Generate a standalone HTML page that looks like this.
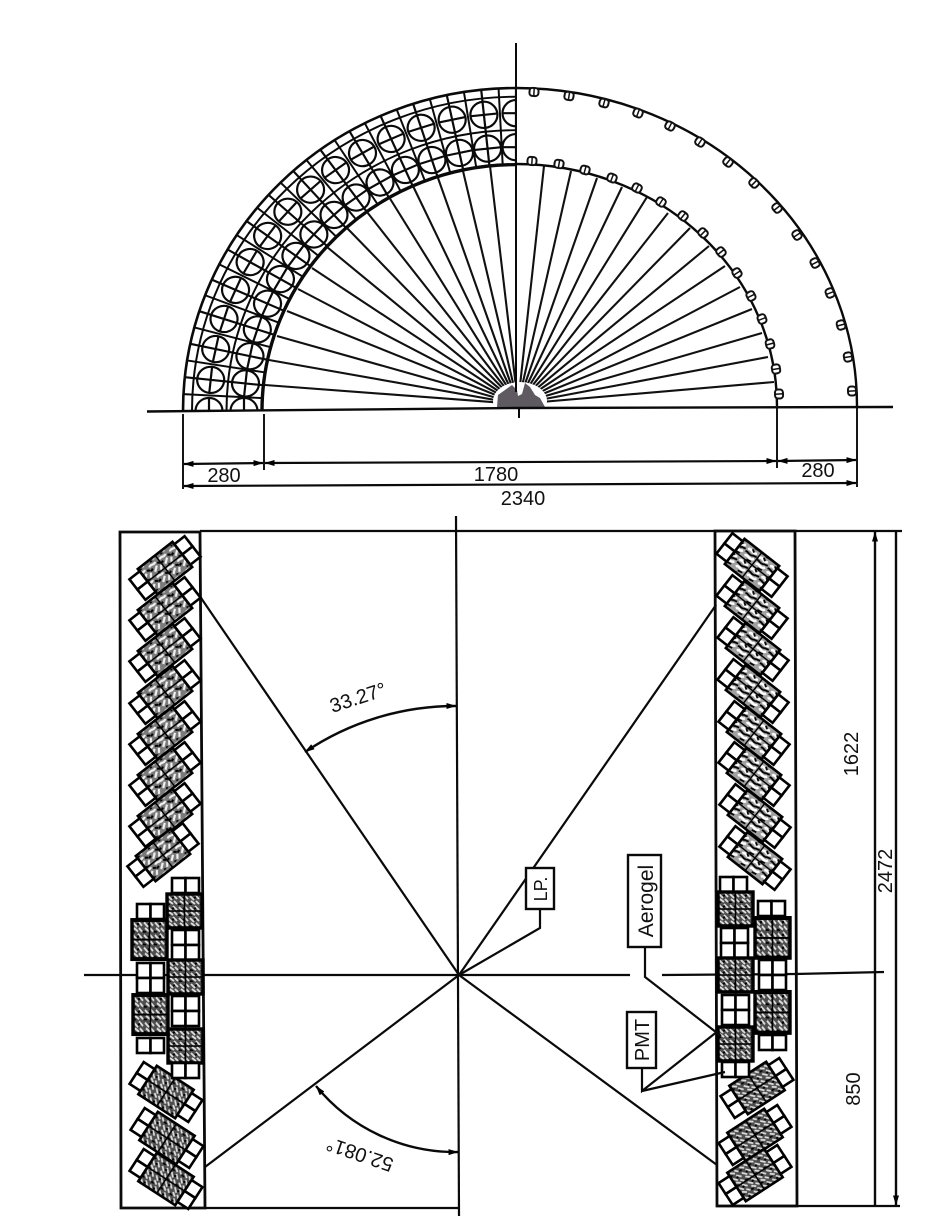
<!DOCTYPE html>
<html lang="en">
<head>
<meta charset="utf-8">
<title>Detector diagram</title>
<style>
html,body{margin:0;padding:0;background:#fff}
svg{display:block}
text{font-family:"Liberation Sans",sans-serif;fill:#111}
</style>
</head>
<body>
<svg width="934" height="1216" viewBox="0 0 934 1216" xmlns="http://www.w3.org/2000/svg">
<defs>
<clipPath id="q"><rect x="-345" y="-345" width="345" height="345"/></clipPath>
<marker id="a" viewBox="0 0 10 6" refX="9.5" refY="3" markerWidth="10" markerHeight="6" markerUnits="userSpaceOnUse" orient="auto-start-reverse"><path d="M0 0L10 3L0 6Z" fill="#000"/></marker>
<g id="m" fill="none" stroke="#0a0a0a" stroke-width="2.2">
<circle cx="-307" cy="0" r="13.5"/><circle cx="-272" cy="0" r="13.5"/>
<path d="M-254 0H-333M-307 -14V14M-272 -14V14"/>
<path d="M-253.65 13.29L-332.54 17.43" stroke-width="2"/>
</g>
<g id="s" fill="#fff" stroke="#111" stroke-width="2">
<rect x="-4.5" y="-4" width="9" height="8" rx="3"/><path d="M0 -4V4" stroke-width="1.5"/>
</g>
<pattern id="p1" width="13" height="13" patternUnits="userSpaceOnUse">
<rect width="13" height="13" fill="#7a7a7a"/>
<path d="M1 3C4 0 6 5 9 2M3 10L8 6M9 12L12 8" stroke="#f2f2f2" stroke-width="2.2" fill="none"/>
<path d="M0 7L3 6M10 4L13 6M5 12L7 13" stroke="#000" stroke-width="2"/>
</pattern>
<pattern id="p2" width="14" height="14" patternUnits="userSpaceOnUse">
<rect width="14" height="14" fill="#a0a0a0"/>
<path d="M1 4C4 0 7 6 11 2M2 11C5 7 8 13 12 8" stroke="#fff" stroke-width="2.6" fill="none"/>
<path d="M0 7C3 5 6 9 9 6L13 5M5 1L8 3M6 13L11 12" stroke="#000" stroke-width="1.9" fill="none"/>
</pattern>
<pattern id="p3" width="11" height="11" patternUnits="userSpaceOnUse">
<rect width="11" height="11" fill="#4e4e4e"/>
<path d="M1 2L5 6M6 1L10 5M2 7L6 10M7 7L10 10" stroke="#ddd" stroke-width="1.8"/>
<path d="M0 10L3 11M5 4L7 3" stroke="#000" stroke-width="2"/>
</pattern>
<g id="uA" stroke="#000" stroke-width="2.6">
<rect x="-22" y="-16" width="44" height="32" fill="url(#p1)"/>
<path d="M0 -16V16M-22 0H22" stroke-width="1.4"/>
<g fill="#fff"><rect x="-35" y="-13" width="13" height="13"/><rect x="-35" y="0" width="13" height="13"/><rect x="22" y="-13" width="13" height="13"/><rect x="22" y="0" width="13" height="13"/></g>
</g>
<g id="uB" stroke="#000" stroke-width="2.6">
<rect x="-22" y="-16" width="44" height="32" fill="url(#p2)"/>
<path d="M0 -16V16M-22 0H22" stroke-width="1.4"/>
<g fill="#fff"><rect x="-35" y="-13" width="13" height="13"/><rect x="-35" y="0" width="13" height="13"/><rect x="22" y="-13" width="13" height="13"/><rect x="22" y="0" width="13" height="13"/></g>
</g>
<g id="uC" stroke="#000" stroke-width="2.6">
<rect x="-22" y="-17" width="44" height="34" fill="url(#p3)"/>
<path d="M0 -17V17M-22 0H22" stroke-width="1.4"/>
<g fill="#fff"><rect x="-35" y="-13" width="13" height="13"/><rect x="-35" y="0" width="13" height="13"/><rect x="22" y="-13" width="13" height="13"/><rect x="22" y="0" width="13" height="13"/></g>
</g>
<g id="sq" stroke="#000" stroke-width="3.4">
<rect x="0" y="0" width="35" height="34" fill="url(#p3)"/>
<path d="M17.5 0V34M0 17H35" stroke-width="1.6"/>
</g>
<g id="w2" fill="#fff" stroke="#000" stroke-width="2.6">
<rect x="0" y="0" width="13.5" height="15"/><rect x="13.5" y="0" width="13.5" height="15"/>
<rect x="0" y="15" width="13.5" height="15"/><rect x="13.5" y="15" width="13.5" height="15"/>
</g>
<g id="w1" fill="#fff" stroke="#000" stroke-width="2.6">
<rect x="0" y="0" width="13.5" height="15"/><rect x="13.5" y="0" width="13.5" height="15"/>
</g>
</defs>

<rect width="934" height="1216" fill="#fff"/>

<!-- top left ring -->
<g transform="translate(516,411) scale(1,.97)">
<g clip-path="url(#q)">
<use href="#m" transform="rotate(0)"/><use href="#m" transform="rotate(6)"/><use href="#m" transform="rotate(12)"/><use href="#m" transform="rotate(18)"/>
<use href="#m" transform="rotate(24)"/><use href="#m" transform="rotate(30)"/><use href="#m" transform="rotate(36)"/><use href="#m" transform="rotate(42)"/>
<use href="#m" transform="rotate(48)"/><use href="#m" transform="rotate(54)"/><use href="#m" transform="rotate(60)"/><use href="#m" transform="rotate(66)"/>
<use href="#m" transform="rotate(72)"/><use href="#m" transform="rotate(78)"/><use href="#m" transform="rotate(84)"/><use href="#m" transform="rotate(90)"/>
<g fill="none" stroke="#0a0a0a">
<circle r="333" stroke-width="2.6"/><circle r="324" stroke-width="2"/><circle r="289.5" stroke-width="2"/><circle r="254" stroke-width="3.4"/>
</g>
</g>
</g>

<!-- spokes -->
<path fill="none" stroke="#111" stroke-width="2.1" d="M265 385L518 404M269 360L518 404M277 336L518 404M287 311L518 404M298 289L518 404M312 268L518 404M327 247L518 404M347 228L518 404M367 212L518 404M389 197L518 404M413 186L518 404M438 178L518 404M463 171L518 404M490 166L518 404M544 166L518 404M571 171L518 404M597 178L518 404M622 187L518 404M647 197L518 404M668 213L518 404M690 228L518 404M709 246L518 404M725 266L518 404M740 287L518 404M752 309L518 404M762 333L518 404M768 357L518 404M774 382L518 404"/>
<ellipse cx="520" cy="401" rx="27" ry="19" fill="#fff"/>
<path d="M497 407L498 395L505 390L512 385L517 390L518 396L522 394L525 383L530 387L535 395L540 398L545 407Z" fill="#5f5a62"/>

<!-- right arcs -->
<path fill="none" stroke="#0a0a0a" stroke-width="2.4" d="M516 88A341 318 0 0 1 857 406M516 164A261 242 0 0 1 777 406"/>
<use href="#s" transform="translate(534,92) rotate(3)"/><use href="#s" transform="translate(569,96) rotate(9)"/><use href="#s" transform="translate(604,103) rotate(15)"/><use href="#s" transform="translate(638,113) rotate(21)"/><use href="#s" transform="translate(670,126) rotate(27)"/><use href="#s" transform="translate(700,142) rotate(33)"/><use href="#s" transform="translate(728,162) rotate(39)"/><use href="#s" transform="translate(754,183) rotate(45)"/><use href="#s" transform="translate(777,208) rotate(51)"/><use href="#s" transform="translate(797,235) rotate(57)"/><use href="#s" transform="translate(815,263) rotate(63)"/><use href="#s" transform="translate(830,293) rotate(69)"/><use href="#s" transform="translate(841,325) rotate(75)"/><use href="#s" transform="translate(848,357) rotate(81)"/><use href="#s" transform="translate(852,391) rotate(87)"/>
<use href="#s" transform="translate(532,161) rotate(3)"/><use href="#s" transform="translate(559,164) rotate(9)"/><use href="#s" transform="translate(585,170) rotate(15)"/><use href="#s" transform="translate(612,178) rotate(21)"/><use href="#s" transform="translate(637,188) rotate(27)"/><use href="#s" transform="translate(661,202) rotate(33)"/><use href="#s" transform="translate(683,216) rotate(39)"/><use href="#s" transform="translate(703,233) rotate(45)"/><use href="#s" transform="translate(721,252) rotate(51)"/><use href="#s" transform="translate(737,273) rotate(57)"/><use href="#s" transform="translate(751,296) rotate(63)"/><use href="#s" transform="translate(762,319) rotate(69)"/><use href="#s" transform="translate(770,344) rotate(75)"/><use href="#s" transform="translate(776,369) rotate(81)"/><use href="#s" transform="translate(779,394) rotate(87)"/>

<!-- top axes and dimensions -->
<g fill="none" stroke="#0a0a0a">
<path d="M516 43V392" stroke-width="2"/>
<path d="M147 411.5L515 408L893 407" stroke-width="2.4"/>
<path d="M519 408V418" stroke-width="2"/>
<path d="M183 414V489M264 414V470M777 407V468M857 407V487" stroke-width="1.9"/>
<path d="M184 464L263 463" stroke-width="2.2" marker-start="url(#a)" marker-end="url(#a)"/>
<path d="M265 463L776 461" stroke-width="2.2" marker-start="url(#a)" marker-end="url(#a)"/>
<path d="M778 461L856 460" stroke-width="2.2" marker-start="url(#a)" marker-end="url(#a)"/>
<path d="M184 486L856 483" stroke-width="2.2" marker-start="url(#a)" marker-end="url(#a)"/>
</g>
<text x="224" y="482" font-size="20" text-anchor="middle">280</text>
<text x="496" y="481" font-size="20" text-anchor="middle">1780</text>
<text x="818" y="477" font-size="20" text-anchor="middle">280</text>
<text x="523" y="505" font-size="20" text-anchor="middle">2340</text>

<!-- bottom frame -->
<g fill="none" stroke="#0a0a0a">
<path d="M120 532H200L205 1208H121Z" stroke-width="2.8"/>
<path d="M715 531H795L797 1206H717Z" stroke-width="2.8"/>
<path d="M200 531H902M205 1208H458M717 1206H900" stroke-width="2.2"/>
<path d="M456 516L459 1216" stroke-width="2.2"/>
<path d="M84 975H630M662 975L795 974L884 972" stroke-width="2.2"/>
<path d="M459 975L199 595M459 975L716 605M459 975L205 1167M459 975L717 1165" stroke-width="2.2"/>
<path d="M875 532V972M875 972V1205M896 532V1205" stroke-width="2.4" marker-start="url(#a)" marker-end="url(#a)"/>
<path d="M305 752A269 269 0 0 1 456 706" stroke-width="2.4" marker-start="url(#a)" marker-end="url(#a)"/>
<path d="M316 1086A180 180 0 0 0 458 1152" stroke-width="2.4" marker-start="url(#a)" marker-end="url(#a)"/>
</g>

<!-- left upper -->
<use href="#uA" transform="translate(165,568) rotate(-38)"/><use href="#uA" transform="translate(165,609) rotate(-38)"/><use href="#uA" transform="translate(165,650) rotate(-38)"/><use href="#uA" transform="translate(165,692) rotate(-38)"/><use href="#uA" transform="translate(165,733) rotate(-38)"/><use href="#uA" transform="translate(165,774) rotate(-38)"/><use href="#uA" transform="translate(165,815) rotate(-38)"/><use href="#uA" transform="translate(163,855) rotate(-38)"/>
<!-- right upper -->
<use href="#uB" transform="translate(752,565) rotate(38)"/><use href="#uB" transform="translate(752,607) rotate(38)"/><use href="#uB" transform="translate(753,649) rotate(38)"/><use href="#uB" transform="translate(753,691) rotate(38)"/><use href="#uB" transform="translate(754,733) rotate(38)"/><use href="#uB" transform="translate(754,774) rotate(38)"/><use href="#uB" transform="translate(755,816) rotate(38)"/><use href="#uB" transform="translate(755,858) rotate(38)"/>
<!-- lower units -->
<use href="#uC" transform="translate(166,1092) rotate(33)"/><use href="#uC" transform="translate(167,1138) rotate(33)"/><use href="#uC" transform="translate(166,1179) rotate(33)"/>
<use href="#uC" transform="translate(757,1088) rotate(-33)"/><use href="#uC" transform="translate(755,1135) rotate(-33)"/><use href="#uC" transform="translate(755,1175) rotate(-33)"/>

<!-- left middle -->
<use href="#w1" transform="translate(172,878)"/><use href="#sq" transform="translate(167,894)"/><use href="#w2" transform="translate(172,930)"/><use href="#sq" transform="translate(168,960)"/><use href="#w2" transform="translate(172,996)"/><use href="#sq" transform="translate(168,1029)"/><use href="#w1" transform="translate(172,1063)"/>
<use href="#w1" transform="translate(137,904)"/><use href="#sq" transform="translate(132,920) scale(1,1.15)"/><use href="#w2" transform="translate(137,963)"/><use href="#sq" transform="translate(133,995) scale(1,1.15)"/><use href="#w1" transform="translate(137,1038)"/>
<!-- right middle -->
<use href="#w1" transform="translate(720,877)"/><use href="#sq" transform="translate(718,892)"/><use href="#w2" transform="translate(721,928)"/><use href="#sq" transform="translate(718,958)"/><use href="#w2" transform="translate(722,995)"/><use href="#sq" transform="translate(718,1027)"/><use href="#w1" transform="translate(722,1062)"/>
<use href="#w1" transform="translate(758,901)"/><use href="#sq" transform="translate(755,918) scale(1,1.17)"/><use href="#w2" transform="translate(759,960)"/><use href="#sq" transform="translate(755,992) scale(1,1.2)"/><use href="#w1" transform="translate(759,1035)"/>

<!-- callouts -->
<g fill="none" stroke="#0a0a0a" stroke-width="2.2">
<path d="M540 909V928L459 975"/>
<path d="M645 947V977L721 1036"/>
<path d="M642 1068V1091L718 1031M642 1091L725 1072"/>
</g>
<g fill="#fff" stroke="#0a0a0a" stroke-width="2.4">
<rect x="526" y="868" width="28" height="41"/>
<rect x="628" y="855" width="33" height="92"/>
<rect x="627" y="1012" width="29" height="56"/>
</g>
<text transform="translate(547,889) rotate(-90)" font-size="18" text-anchor="middle">LP.</text>
<text transform="translate(653,901) rotate(-90)" font-size="21" text-anchor="middle">Aerogel</text>
<text transform="translate(649,1040) rotate(-90)" font-size="20" text-anchor="middle">PMT</text>
<text transform="translate(360,704) rotate(-18)" font-size="20" text-anchor="middle">33.27°</text>
<text transform="translate(362,1148) rotate(199)" font-size="20" text-anchor="middle">52.081°</text>
<text transform="translate(858,754) rotate(-90)" font-size="20" text-anchor="middle">1622</text>
<text transform="translate(892,871) rotate(-90)" font-size="20" text-anchor="middle">2472</text>
<text transform="translate(860,1089) rotate(-90)" font-size="20" text-anchor="middle">850</text>
</svg>
</body>
</html>
